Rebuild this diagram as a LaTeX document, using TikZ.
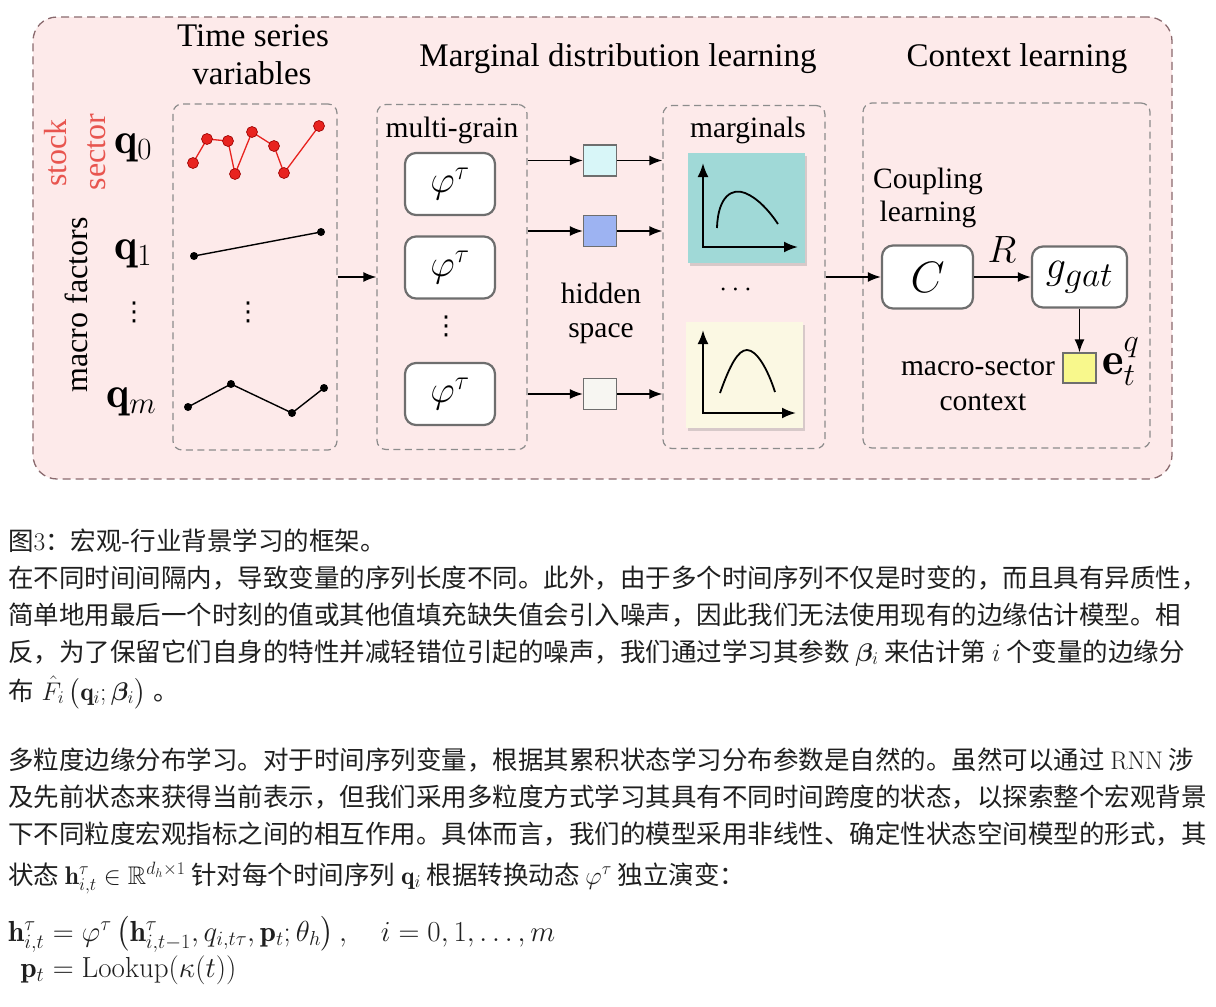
\RequirePackage{fix-cm}
\documentclass[tikz,border=0pt]{standalone}
\usepackage{amsmath,amssymb}
\usepackage{fontspec}
\usepackage{bm}
\newfontfamily\cjk{Noto Sans CJK SC}
\newfontfamily\tms{Liberation Serif}
\newfontfamily\djv{DejaVu Sans}
\usetikzlibrary{arrows.meta,shadows}
\definecolor{bgpink}{HTML}{FDEAEA}
\definecolor{outerdash}{HTML}{8A6A6E}
\definecolor{innerdash}{HTML}{8C8C8C}
\definecolor{redpt}{HTML}{E8231F}
\definecolor{redlbl}{HTML}{E8554F}
\definecolor{plotteal}{HTML}{A0D9D7}
\definecolor{plotcream}{HTML}{FBF8E3}
\definecolor{sqcyan}{HTML}{D8F6F8}
\definecolor{sqblue}{HTML}{9DB3F2}
\definecolor{sqwhite}{HTML}{F7F6F2}
\definecolor{sqyellow}{HTML}{F8F88C}
\definecolor{boxgray}{HTML}{6E6E6E}
\begin{document}
\begin{tikzpicture}[x=1pt,y=-1pt,
  outerbox/.style={draw=outerdash, dash pattern=on 8pt off 5pt, line width=1.3pt, fill=bgpink, rounded corners=24pt, inner sep=0pt},
  groupbox/.style={draw=innerdash, dash pattern=on 7pt off 4.5pt, line width=1.2pt, rounded corners=9pt, inner sep=0pt},
  funcbox/.style={draw=boxgray, line width=2.2pt, fill=white, rounded corners=11pt, inner sep=0pt, font=\fontsize{38}{44}\selectfont},
  hsq/.style={draw=boxgray, line width=1.2pt, inner sep=0pt, minimum width=33pt, minimum height=31pt},
  plotbg/.style={inner sep=0pt, drop shadow={shadow xshift=1.5pt, shadow yshift=-2.5pt, opacity=0.3}},
  flow/.style={-{Latex[length=13pt,width=10pt]}, line width=1.6pt},
  axisarrows/.style={{Latex[length=14pt,width=11pt]}-{Latex[length=14pt,width=11pt]}, line width=2.2pt},
  head/.style={font=\tms\fontsize{33}{38}\selectfont, anchor=base, inner sep=0pt},
  lbl/.style={font=\tms\fontsize{29.5}{34}\selectfont, anchor=base, inner sep=0pt},
  rlbl/.style={font=\tms\fontsize{32}{38}\selectfont, rotate=90, inner sep=0pt},
  qlbl/.style={font=\fontsize{44}{52}\selectfont, anchor=base west, inner sep=0pt},
  vdotslbl/.style={font=\djv\fontsize{26}{30}\selectfont, inner sep=0pt},
  redline/.style={draw=redpt, line width=1.3pt},
  reddot/.style={fill=redpt, draw=red!60!black, line width=0.6pt},
  blackline/.style={draw=black, line width=1.4pt},
  cjkline/.style={font=\cjk\fontsize{25.5}{30}\selectfont, anchor=base west, inner sep=0pt, text=black!88},
  eqpart/.style={font=\fontsize{29}{34}\selectfont, inner sep=0pt, text=black!88}
]
\useasboundingbox (0,0) rectangle (1216,1007);
\fill[white] (0,0) rectangle (1216,1007);

% outer frame
\node[outerbox, minimum width=1139pt, minimum height=462pt] (outer) at (602.5,248) {};

% group boxes
\node[groupbox, minimum width=164pt, minimum height=346pt] (ts) at (255,277) {};
\node[groupbox, minimum width=150pt, minimum height=345pt] (mg) at (452,277) {};
\node[groupbox, minimum width=162pt, minimum height=343pt] (marg) at (744,277) {};
\node[groupbox, minimum width=287pt, minimum height=345pt] (ctx) at (1006.5,275.5) {};

% headers
\node[head] (h1) at (253,46) {Time series};
\node[head] (h2) at (252,84) {variables};
\node[head] (h3) at (618,66) {Marginal distribution learning};
\node[head] (h4) at (1017,66) {Context learning};

% left labels
\node[rlbl, text=redlbl] (stock) at (56,153) {stock};
\node[rlbl, text=redlbl] (sector) at (97,152) {sector};
\node[rlbl] (macro) at (76,305) {macro factors};
\node[qlbl] (q0) at (114,153) {$\mathbf{q}_0$};
\node[qlbl] (q1) at (114,259) {$\mathbf{q}_1$};
\node[qlbl] (qm) at (106,407) {$\mathbf{q}_m$};
\node[vdotslbl] (qdots) at (134,312) {⋮};

% time series
\draw[redline] (193,163) -- (207,139) -- (228,141) -- (235,174) -- (252,132) -- (274,146) -- (284,173) -- (319,126);
\foreach \x/\y in {193/163,207/139,228/141,235/174,252/132,274/146,284/173,319/126}
  \filldraw[reddot] (\x,\y) circle (5.5pt);
\draw[blackline] (194,256) -- (321,232);
\foreach \x/\y in {194/256,321/232} \fill (\x,\y) circle (4pt);
\node[vdotslbl] (tsdots) at (248,312) {⋮};
\draw[blackline] (188,407) -- (231,384) -- (292,413) -- (324,388);
\foreach \x/\y in {188/407,231/384,292/413,324/388} \fill (\x,\y) circle (4pt);

% multi-grain
\node[lbl] (mgl) at (452,137) {multi-grain};
\node[funcbox, minimum width=90pt, minimum height=62pt] (f1) at (450,184) {$\varphi^{\tau}$};
\node[funcbox, minimum width=90pt, minimum height=62pt] (f2) at (450,267.5) {$\varphi^{\tau}$};
\node[funcbox, minimum width=90pt, minimum height=62pt] (f3) at (450,394) {$\varphi^{\tau}$};
\node[vdotslbl] (fdots) at (446,326) {⋮};

% hidden space
\node[hsq, fill=sqcyan] (s1) at (600,160.5) {};
\node[hsq, fill=sqblue] (s2) at (600,231) {};
\node[hsq, fill=sqwhite] (s3) at (600,394) {};
\node[lbl] (hid1) at (601,303) {hidden};
\node[lbl] (hid2) at (601,337) {space};

% marginals
\node[lbl] (margl) at (748,137) {marginals};
\node[plotbg, fill=plotteal, minimum width=117pt, minimum height=110pt] (p1) at (746.5,208) {};
\draw[axisarrows] (703,163) -- (703,247) -- (798,247);
\draw[line width=1.8pt] (717,228) .. controls (718,195) and (733,188) .. (745,193) .. controls (758,198) and (770,212) .. (778,224);
\node[font=\fontsize{28}{34}\selectfont, inner sep=0pt] (mdots) at (738,290) {$\cdots$};
\node[plotbg, fill=plotcream, minimum width=117pt, minimum height=106pt] (p2) at (744.5,375) {};
\draw[axisarrows] (703,330) -- (703,413) -- (796,413);
\draw[line width=1.8pt] (720,393) .. controls (730,365) and (738,350) .. (747,350) .. controls (757,350) and (768,370) .. (775,392);

% context
\node[lbl] (cp1) at (928,188) {Coupling};
\node[lbl] (cp2) at (928,221) {learning};
\node[funcbox, minimum width=91pt, minimum height=63pt, font=\fontsize{44}{50}\selectfont] (C) at (927.5,277) {$C$};
\node[funcbox, minimum width=95pt, minimum height=61pt, font=\fontsize{40}{48}\selectfont] (g) at (1079.5,277) {$g_{\mbox{\fontsize{35}{40}\selectfont$gat$}}$};
\node[font=\fontsize{38}{44}\selectfont, inner sep=0pt] (R) at (1002,250) {$R$};
\node[draw=boxgray, line width=1.2pt, fill=sqyellow, inner sep=0pt, minimum width=33pt, minimum height=30pt] (ysq) at (1079.5,368) {};
\node[anchor=base west, inner sep=0pt, font=\fontsize{46}{54}\selectfont] (e) at (1102,374) {$\mathbf{e}_t^{q}$};
\node[lbl] (ms1) at (978,375) {macro-sector};
\node[lbl] (ms2) at (983,410) {context};

% connectors
\draw[flow] (ts.east) -- (mg.west);
\draw[flow] (mg.east |- s1) -- (s1.west);
\draw[flow] (mg.east |- s2) -- (s2.west);
\draw[flow] (mg.east |- s3) -- (s3.west);
\draw[flow] (s1.east) -- (marg.west |- s1);
\draw[flow] (s2.east) -- (marg.west |- s2);
\draw[flow] (s3.east) -- (marg.west |- s3);
\draw[flow] (marg.east |- C) -- (C.west);
\draw[flow] (C.east) -- (g.west);
\draw[flow] (g.south) -- (ysq.north);

% text below
\node[cjkline] (cap) at (8,550) {图$3$：宏观-行业背景学习的框架。};
\node[cjkline] (l1) at (8,587) {在不同时间间隔内，导致变量的序列长度不同。此外，由于多个时间序列不仅是时变的，而且具有异质性，};
\node[cjkline] (l2) at (8,624) {简单地用最后一个时刻的值或其他值填充缺失值会引入噪声，因此我们无法使用现有的边缘估计模型。相};
\node[cjkline] (l3) at (8,661) {反，为了保留它们自身的特性并减轻错位引起的噪声，我们通过学习其参数 $\bm{\beta}_i$ 来估计第 $i$ 个变量的边缘分};
\node[cjkline] (l4) at (8,700) {布\hspace{8pt}$\hat{F}_i\,\bigl(\mathbf{q}_i;\bm{\beta}_i\bigr)$\hspace{8pt}。};
\node[cjkline] (m1) at (8,769) {多粒度边缘分布学习。对于时间序列变量，根据其累积状态学习分布参数是自然的。虽然可以通过 {\rmfamily RNN} 涉};
\node[cjkline] (m2) at (8,806) {及先前状态来获得当前表示，但我们采用多粒度方式学习其具有不同时间跨度的状态，以探索整个宏观背景};
\node[cjkline] (m3) at (8,843) {下不同粒度宏观指标之间的相互作用。具体而言，我们的模型采用非线性、确定性状态空间模型的形式，其};
\node[cjkline] (m4) at (8,884) {状态 $\mathbf{h}^{\tau}_{i,t}\in\mathbb{R}^{d_h\times 1}$ 针对每个时间序列 $\mathbf{q}_i$ 根据转换动态 $\varphi^{\tau}$ 独立演变：};

% equations
\coordinate (eqbase1) at (8,941);
\coordinate (eqbase2) at (8,977);
\node[eqpart, anchor=base west] (eqL1) at (eqbase1) {$\mathbf{h}^{\tau}_{i,t}$};
\node[eqpart, anchor=base west] (eqR1) at (eqL1.base east) {${}=\varphi^{\tau}\left(\mathbf{h}^{\tau}_{i,t-1},q_{i,t\tau},\mathbf{p}_t;\theta_h\right),\quad i=0,1,\ldots,m$};
\node[eqpart, anchor=base east] (eqL2) at (eqL1.base east |- eqbase2) {$\mathbf{p}_t$};
\node[eqpart, anchor=base west] (eqR2) at (eqL2.base east) {${}=\mathrm{Lookup}(\kappa(t))$};
\end{tikzpicture}
\end{document}
